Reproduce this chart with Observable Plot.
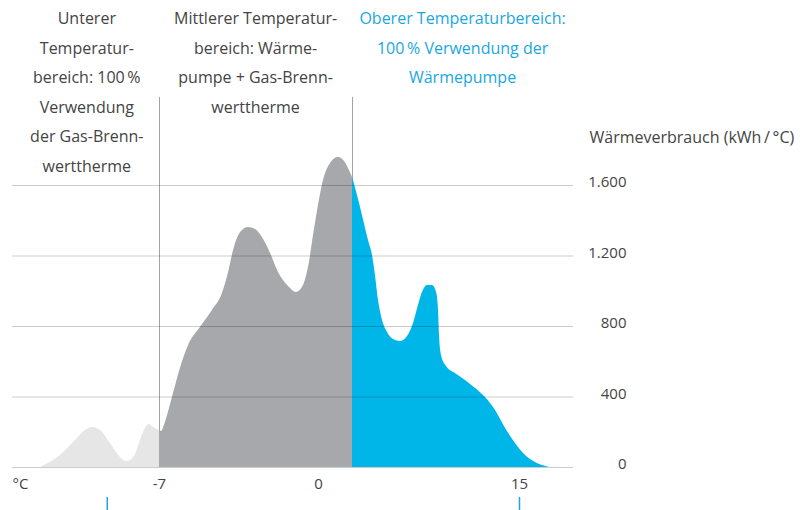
<!DOCTYPE html>
<html><head><meta charset="utf-8">
<script src="https://cdn.jsdelivr.net/npm/d3@7"></script>
<script src="https://cdn.jsdelivr.net/npm/@observablehq/plot@0.6"></script>
<style>body{margin:0;background:#fff;}</style>
</head><body><div id="chart"></div>
<script>
// Außentemperatur (°C) und Wärmeverbrauch (kWh/°C) je Temperaturbereich
const lowTemp  = [-12.24, -11.36, -10.70, -10.26, -9.95, -9.60, -9.16, -8.72, -8.41, -8.10, -7.84, -7.62, -7.45, -7.27, -7.0];
const lowVal   = [0, 68, 153, 210, 227, 210, 136, 57, 34, 62, 153, 221, 244, 227, 210];
const midTemp  = [-7.0, -6.91, -6.74, -6.43, -6.08, -5.72, -5.20, -4.67, -4.23, -3.96, -3.74, -3.43, -3.08, -2.77, -2.47, -2.11, -1.76, -1.32, -0.97, -0.66, -0.40, -0.22, 0, 0.37, 0.90, 1.49, 1.94, 2.31, 2.54];
const midVal   = [210, 204, 255, 397, 562, 692, 794, 891, 987, 1106, 1231, 1333, 1362, 1350, 1305, 1214, 1106, 1027, 993, 1033, 1163, 1316, 1487, 1628, 1725, 1759, 1736, 1685, 1645];
const highTemp = [2.54, 2.91, 3.28, 3.73, 4.03, 4.25, 4.48, 4.78, 5.15, 5.60, 6.12, 6.64, 7.09, 7.46, 7.76, 8.13, 8.51, 8.81, 8.96, 9.03, 9.18, 9.55, 10.22, 10.97, 11.72, 12.46, 13.21, 13.96, 14.70, 15.45, 16.19, 17.24];
const highVal  = [1645, 1543, 1430, 1288, 1203, 1089, 947, 834, 766, 726, 715, 743, 817, 919, 993, 1033, 1033, 993, 891, 749, 635, 573, 533, 494, 448, 397, 323, 221, 136, 68, 28, 0];

const zones = ["low", "mid", "high"];
const zoneColors = ["#e6e6e6", "#a7a8ab", "#00b5e8"];
const yTicks = [0, 400, 800, 1200, 1600];
const xTicks = [-7, 0, 15];
const boundaries = [-7, 2.54];
const markers = [-9.3, 15];

const headerGray = [
  "Unterer\nTemperatur-\nbereich: 100\u2009%\nVerwendung\nder Gas-Brenn-\nwerttherme",
  "Mittlerer Temperatur-\nbereich: Wärme-\npumpe + Gas-Brenn-\nwerttherme"
];
const headerGrayX = [-10.2, -2.77];
const headerBlue = ["Oberer Temperaturbereich:\n100\u2009% Verwendung der\nWärmepumpe"];
const headerBlueX = [10.75];
const yTitle = "Wärmeverbrauch (kWh\u2009/\u2009°C)";
const xUnit = "°C";

const rows = [];
[[lowTemp, lowVal, "low"], [midTemp, midVal, "mid"], [highTemp, highVal, "high"]].forEach(([t, v, z]) => {
  t.forEach((d, i) => rows.push({t: d, v: v[i], zone: z}));
});

const textColor = "#444";
const blue = "#1aa7df";
const deFormat = d => d3.format(",")(d).replace(/,/g, ".");

const chart = Plot.plot({
  width: 811, height: 510,
  marginLeft: 12, marginRight: 238, marginTop: 0, marginBottom: 43,
  style: {fontFamily: "'Open Sans', sans-serif", fontSize: "15px", color: textColor, background: "#fff"},
  x: {type: "linear", domain: [-7, 0, 15], range: [159, 318, 519]},
  y: {domain: [0, 1600], range: [467, 185]},
  color: {domain: zones, range: zoneColors},
  marks: [
    Plot.ruleX(boundaries, {x: d => d, y1: 0, y2: 2100, stroke: "#a3a3a3", strokeWidth: 1}),
    Plot.areaY(rows, {x: "t", y1: 0, y2: "v", z: "zone", fill: "zone", curve: "monotone-x"}),
    Plot.gridY(yTicks, {stroke: "#000", strokeOpacity: 0.2, strokeWidth: 1.2}),
    Plot.axisY(yTicks, {anchor: "right", tickSize: 0, tickPadding: 0, dx: 53, dy: -3, textAnchor: "end", tickFormat: deFormat, label: null, fontSize: 15, fill: textColor}),
    Plot.axisX(xTicks, {anchor: "bottom", tickSize: 0, tickPadding: 11, tickFormat: d => String(d), label: null, fontSize: 15, fill: textColor}),
    Plot.text([xUnit], {frameAnchor: "bottom-left", textAnchor: "start", lineAnchor: "top", dy: 11, fontSize: 15, fill: textColor}),
    Plot.ruleX(markers, {x: d => d, y1: -170, y2: -244, stroke: blue, strokeWidth: 1.5}),
    Plot.text(headerGray, {x: headerGrayX, frameAnchor: "top", text: d => d, lineAnchor: "top", lineHeight: 1.84, dy: 3, fontSize: 16, fill: textColor}),
    Plot.text(headerBlue, {x: headerBlueX, frameAnchor: "top", text: d => d, lineAnchor: "top", lineHeight: 1.84, dy: 3, fontSize: 16, fill: blue}),
    Plot.text([yTitle], {frameAnchor: "top-right", textAnchor: "start", lineAnchor: "middle", dx: 16, dy: 137, fontSize: 16, fill: textColor})
  ]
});
document.getElementById("chart").append(chart);
</script>
</body></html>
